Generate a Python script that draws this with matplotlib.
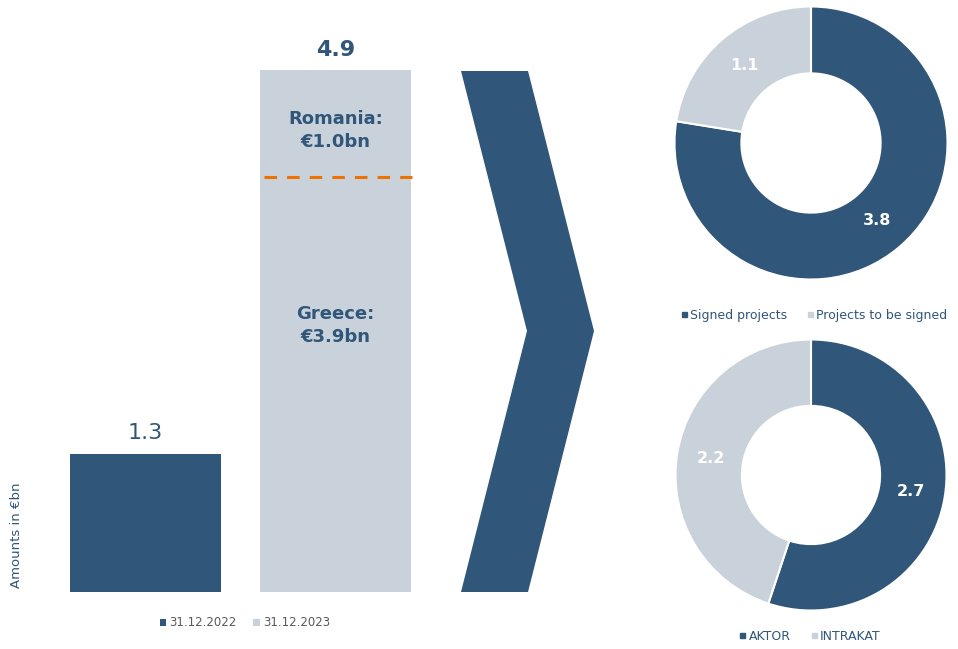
import matplotlib
matplotlib.use("Agg")
import matplotlib.pyplot as plt
import numpy as np
from matplotlib.patches import Polygon, Patch
from matplotlib.lines import Line2D

plt.rcParams["font.family"] = ["DejaVu Sans"]

# ---- data -------------------------------------------------------------
bar_dates = ["31.12.2022", "31.12.2023"]
bar_totals = [1.3, 4.9]
greece_value = 3.9
romania_value = 1.0

signing_labels = ["Signed projects", "Projects to be signed"]
signing_values = [3.8, 1.1]

company_labels = ["AKTOR", "INTRAKAT"]
company_values = [2.7, 2.2]

# ---- style ------------------------------------------------------------
DARK = "#30567A"
LIGHT = "#C9D2DA"
ORANGE = "#EE7202"
TEXT_BLUE = "#30567A"
GREY_TEXT = "#595959"

W, H = 958, 649
fig = plt.figure(figsize=(W / 100, H / 100), dpi=100)


def px_axes(left, top, right, bottom, **kw):
    return fig.add_axes([left / W, 1 - bottom / H, (right - left) / W, (bottom - top) / H], **kw)


# ---- bar chart --------------------------------------------------------
ax = px_axes(40, 20, 440, 592)
x = np.arange(len(bar_totals))
ax.bar(x, bar_totals, width=0.795, color=[DARK, LIGHT])
ax.set_xlim(-105.5 / 190, 1 + 104.5 / 190)
ax.set_ylim(0, 572 / 106.5)
ax.axis("off")

ax.text(x[0], bar_totals[0] + 0.1, f"{bar_totals[0]:.1f}", ha="center", va="bottom",
        fontsize=16, color=TEXT_BLUE)
ax.text(x[1], bar_totals[1] + 0.1, f"{bar_totals[1]:.1f}", ha="center", va="bottom",
        fontsize=16, color=TEXT_BLUE, fontweight="bold")

# split between Greece and Romania
ax.plot([x[1] - 0.375, x[1] + 0.4], [greece_value, greece_value], color=ORANGE,
        lw=2.2, dashes=(4.1, 3.3))
ax.text(x[1], greece_value + romania_value / 2 - 0.07, f"Romania:\n€{romania_value:.1f}bn",
        ha="center", va="center", fontsize=13, fontweight="bold", color=TEXT_BLUE,
        linespacing=1.35)
ax.text(x[1], 2.5, f"Greece:\n€{greece_value:.1f}bn",
        ha="center", va="center", fontsize=13, fontweight="bold", color=TEXT_BLUE,
        linespacing=1.35)

fig.text(17 / W, 1 - 535 / H, "Amounts in €bn", rotation=90, ha="center", va="center",
         fontsize=9.5, color=TEXT_BLUE)

bar_handles = [Patch(facecolor=DARK), Patch(facecolor=LIGHT)]
fig.legend(bar_handles, bar_dates, loc="center", bbox_to_anchor=(245 / W, 1 - 623 / H),
           ncol=2, frameon=False, fontsize=8.5, labelcolor=GREY_TEXT,
           handlelength=0.55, handleheight=0.55, handletextpad=0.3, columnspacing=1.4)

# ---- chevron ----------------------------------------------------------
over = px_axes(0, 0, W, H)
over.set_xlim(0, W)
over.set_ylim(H, 0)
over.axis("off")
over.patch.set_alpha(0)
chevron = [(461, 71), (528, 71), (594, 331), (528, 592), (461, 592), (527, 331)]
over.add_patch(Polygon(chevron, closed=True, facecolor=DARK, edgecolor="none"))


# ---- donuts -----------------------------------------------------------
def donut(cx, cy, r, values, labels, legend_y, legend_x):
    pad = 145
    dax = px_axes(cx - pad, cy - pad, cx + pad, cy + pad)
    total = sum(values)
    _, _, autotexts = dax.pie(
        values, colors=[DARK, LIGHT], startangle=90, counterclock=False,
        radius=r / pad, pctdistance=0.75,
        autopct=lambda p: f"{p * total / 100:.1f}",
        wedgeprops=dict(width=0.49 * r / pad, edgecolor="white", linewidth=1.5))
    for t in autotexts:
        t.set_color("white")
        t.set_fontsize(11.5)
        t.set_fontweight("bold")
    dax.set_xlim(-1, 1)
    dax.set_ylim(-1, 1)
    dax.set_aspect("equal")
    handles = [Line2D([], [], marker="s", linestyle="none", markersize=3.6, color=DARK),
               Line2D([], [], marker="s", linestyle="none", markersize=3.6, color=LIGHT)]
    fig.legend(handles, labels, loc="center", bbox_to_anchor=(legend_x / W, 1 - legend_y / H),
               ncol=2, frameon=False, fontsize=9, labelcolor=TEXT_BLUE,
               handlelength=0.5, handletextpad=0.25, columnspacing=1.6)


donut(811, 143, 136.5, signing_values, signing_labels, 315, 814)
donut(811, 475, 135.5, company_values, company_labels, 636, 810)

fig.savefig("out.png", dpi=100)
